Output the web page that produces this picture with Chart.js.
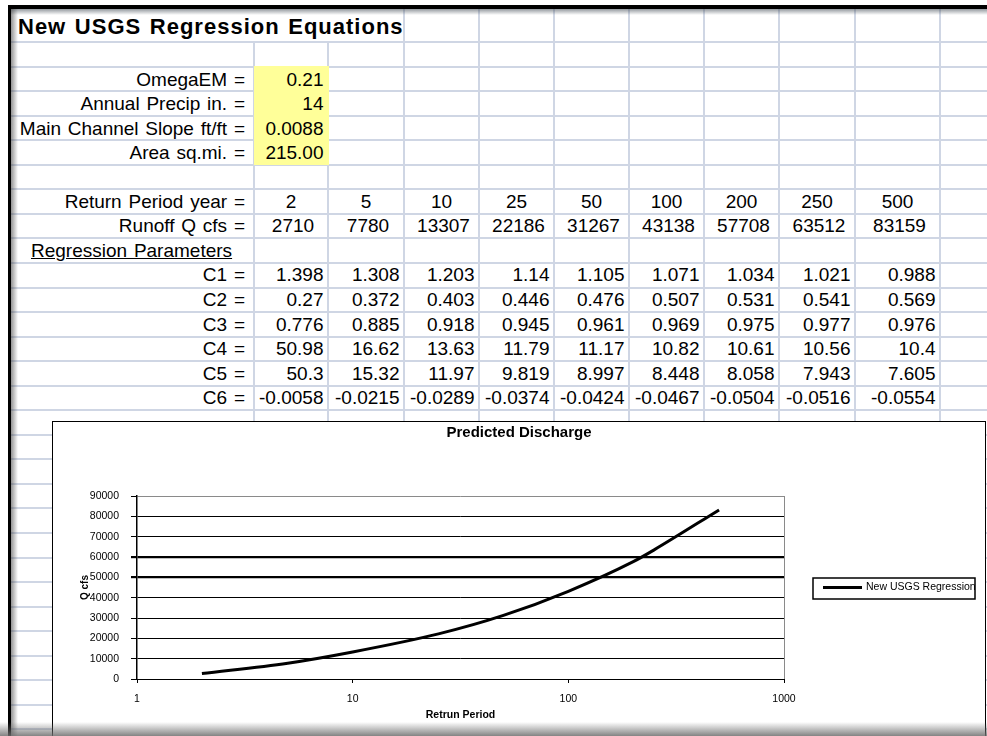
<!DOCTYPE html>
<html><head><meta charset="utf-8">
<script src="https://cdn.jsdelivr.net/npm/chart.js@4.4.1/dist/chart.umd.min.js"></script>
<style>
html,body{margin:0;padding:0;background:#fff;}
#sheet{position:relative;width:987px;height:736px;overflow:hidden;background:#fff;font-family:"Liberation Sans",Arial,sans-serif;color:#000;}
.h{position:absolute;height:2px;background:#cfd6e4;z-index:1;}
.v{position:absolute;width:2px;background:#cfd6e4;z-index:1;}
.t{position:absolute;white-space:nowrap;font-size:19px;line-height:19px;z-index:3;word-spacing:1.5px;}
#yellow{position:absolute;left:254px;top:66px;width:75px;height:99px;background:#ffff99;z-index:2;}
#chartBox{position:absolute;left:52px;top:421px;width:932px;height:315px;border:1px solid #000;border-bottom:none;background:#fff;z-index:5;}
#chartBox canvas{display:block;}
.frame{position:absolute;z-index:8;}
</style></head><body>
<div id="sheet">
  <div id="yellow"></div>
  <div id="chartBox"><canvas id="c" width="932" height="314"></canvas></div>
  <div class="frame" style="left:8px;top:5px;width:979px;height:4px;background:#000;"></div>
  <div class="frame" style="left:11px;top:9px;width:976px;height:6px;background:linear-gradient(to bottom,rgba(60,70,80,0.55),rgba(255,255,255,0));"></div>
  <div class="frame" style="left:8px;top:5px;width:3px;height:731px;background:#000;"></div>
  <div class="frame" style="left:11px;top:9px;width:7px;height:727px;background:linear-gradient(to right,rgba(60,60,60,0.55),rgba(255,255,255,0));"></div>
  <div class="frame" style="left:0;top:722px;width:987px;height:14px;background:linear-gradient(to bottom,rgba(140,140,140,0),rgba(110,110,110,0.85));"></div>
</div>
<script>
// ---- spreadsheet content ----
const sheetTitle = 'New USGS Regression Equations';
const inputLabels = ['OmegaEM =', 'Annual Precip in. =', 'Main Channel Slope ft/ft =', 'Area sq.mi. ='];
const inputValues = ['0.21', '14', '0.0088', '215.00'];
const returnPeriods = [2, 5, 10, 25, 50, 100, 200, 250, 500];
const runoffQ = [2710, 7780, 13307, 22186, 31267, 43138, 57708, 63512, 83159];
const paramHeader = 'Regression Parameters';
const paramNames = ['C1 =', 'C2 =', 'C3 =', 'C4 =', 'C5 =', 'C6 ='];
const c1 = ['1.398', '1.308', '1.203', '1.14', '1.105', '1.071', '1.034', '1.021', '0.988'];
const c2 = ['0.27', '0.372', '0.403', '0.446', '0.476', '0.507', '0.531', '0.541', '0.569'];
const c3 = ['0.776', '0.885', '0.918', '0.945', '0.961', '0.969', '0.975', '0.977', '0.976'];
const c4 = ['50.98', '16.62', '13.63', '11.79', '11.17', '10.82', '10.61', '10.56', '10.4'];
const c5 = ['50.3', '15.32', '11.97', '9.819', '8.997', '8.448', '8.058', '7.943', '7.605'];
const c6 = ['-0.0058', '-0.0215', '-0.0289', '-0.0374', '-0.0424', '-0.0467', '-0.0504', '-0.0516', '-0.0554'];
// ---- chart content ----
const chartTitle = 'Predicted Discharge';
const seriesLabel = 'New USGS Regression';
const xTitle = 'Retrun Period';
const yTitle = 'Q cfs';
const xTicks = [1, 10, 100, 1000];
const yMin = 0, yMax = 90000, yStep = 10000;

// ---- sheet layout ----
const sheet = document.getElementById('sheet');
const colX = [254, 328, 404, 479, 554, 629, 704, 779, 855, 940];
const rowH = 24.55, row1Top = 42;
const rowBottom = i => row1Top + rowH * i;

for (let i = 0; i <= 28; i++) {
  const d = document.createElement('div');
  d.className = 'h';
  d.style.left = '11px'; d.style.width = '976px';
  d.style.top = (Math.round(rowBottom(i)) - 1) + 'px';
  sheet.appendChild(d);
}
colX.forEach(x => {
  const d = document.createElement('div');
  d.className = 'v';
  const top = x < 400 ? 42 : 9;
  d.style.left = (x - 1) + 'px'; d.style.top = top + 'px'; d.style.height = (736 - top) + 'px';
  sheet.appendChild(d);
});

function addText(txt, o) {
  const d = document.createElement('div');
  d.className = 't';
  const size = o.size || 19;
  d.style.fontSize = size + 'px';
  d.style.lineHeight = size + 'px';
  if (o.bold) d.style.fontWeight = 'bold';
  if (o.underline) d.style.textDecoration = 'underline';
  if (o.ls) d.style.letterSpacing = o.ls + 'px';
  d.style.top = (o.baseline - 0.847 * size) + 'px';
  if (o.right !== undefined) { d.style.right = (987 - o.right) + 'px'; d.style.textAlign = 'right'; }
  else if (o.center !== undefined) { d.style.left = (o.center - 60) + 'px'; d.style.width = '120px'; d.style.textAlign = 'center'; }
  else d.style.left = o.left + 'px';
  d.textContent = txt;
  sheet.appendChild(d);
}

addText(sheetTitle, {left: 18, baseline: 35, size: 22, bold: true, ls: 1});
const labelRight = 245;
inputLabels.forEach((l, k) => {
  const b = rowBottom(k + 2) - 5.5;
  addText(l, {right: labelRight, baseline: b});
  addText(inputValues[k], {right: colX[1] - 4.5, baseline: b});
});
let b = rowBottom(7) - 6;
addText('Return Period year =', {right: labelRight, baseline: b});
returnPeriods.forEach((v, j) => addText(String(v), {center: (colX[j] + colX[j + 1]) / 2, baseline: b}));
b = rowBottom(8) - 6;
addText('Runoff Q cfs =', {right: labelRight, baseline: b});
runoffQ.forEach((v, j) => addText(String(v), {center: (colX[j] + colX[j + 1]) / 2 + 2, baseline: b}));
addText(paramHeader, {left: 31, baseline: rowBottom(9) - 6, underline: true});
[c1, c2, c3, c4, c5, c6].forEach((arr, k) => {
  const bb = rowBottom(10 + k) - 6;
  addText(paramNames[k], {right: labelRight, baseline: bb});
  arr.forEach((v, j) => addText(v, {right: colX[j + 1] - 4.5, baseline: bb}));
});

// ---- chart ----
const FONT = '"Liberation Sans", Arial, sans-serif';
const boxLegend = {
  id: 'boxLegend',
  afterDraw(chart) {
    const {ctx, chartArea: a} = chart;
    const ds = chart.data.datasets[0];
    const cy = (a.top + a.bottom) / 2;
    const bx = a.right + 29, by = cy - 9.5, bw = 162, bh = 21;
    ctx.save();
    ctx.strokeStyle = '#000';
    ctx.lineWidth = 1.5;
    ctx.strokeRect(bx, by, bw, bh);
    ctx.lineWidth = 3;
    ctx.beginPath();
    ctx.moveTo(bx + 10, cy); ctx.lineTo(bx + 49, cy);
    ctx.stroke();
    ctx.fillStyle = '#000';
    ctx.font = '10.5px ' + FONT;
    ctx.textBaseline = 'middle';
    ctx.textAlign = 'left';
    ctx.fillText(ds.label, bx + 53, cy);
    ctx.restore();
  }
};

new Chart(document.getElementById('c'), {
  type: 'line',
  data: {
    datasets: [{
      label: seriesLabel,
      data: returnPeriods.map((x, i) => ({x: x, y: runoffQ[i]})),
      borderColor: '#000',
      borderWidth: 3,
      pointRadius: 0,
      cubicInterpolationMode: 'monotone',
      fill: false
    }]
  },
  options: {
    responsive: false,
    animation: false,
    layout: {padding: {left: 0, right: 0, top: 0, bottom: 11}},
    plugins: {
      legend: {display: false},
      tooltip: {enabled: false},
      title: {display: true, text: chartTitle, color: '#000',
        font: {family: FONT, size: 15, weight: 'bold'}, padding: {top: 2, bottom: 54}}
    },
    scales: {
      x: {
        type: 'logarithmic', position: 'bottom', min: xTicks[0], max: xTicks[xTicks.length - 1],
        afterBuildTicks(s) { s.ticks = xTicks.map(v => ({value: v})); },
        afterFit(s) { s.height = 46; },
        ticks: {autoSkip: false, maxRotation: 0, minRotation: 0, padding: 9.7, color: '#000',
          font: {family: FONT, size: 10.5}, callback: v => String(v)},
        grid: {color: c => (c.tick && c.tick.value === 1000) ? '#8a8a8a' : 'rgba(0,0,0,0)',
          tickColor: '#000', tickLength: 4, lineWidth: 1},
        border: {display: true, color: '#000', width: 1},
        title: {display: true, text: xTitle, color: '#000', font: {family: FONT, size: 10.5, weight: 'bold'},
          padding: {top: 0, bottom: 3.7}}
      },
      y: {
        type: 'linear', position: 'left', min: yMin, max: yMax,
        afterFit(s) { s.width = 84; },
        ticks: {stepSize: yStep, padding: 12, color: '#000', font: {family: FONT, size: 10.5}, callback: v => String(v)},
        grid: {color: c => (c.tick && c.tick.value === yMax) ? '#8a8a8a' : '#000',
          lineWidth: c => (c.tick && (c.tick.value === 50000 || c.tick.value === 60000)) ? 2.2 : 1,
          tickColor: '#000', tickLength: 6},
        border: {display: true, color: '#000', width: 1.5},
        title: {display: true, text: yTitle, color: '#000', font: {family: FONT, size: 10, weight: 'bold'},
          padding: {top: 26, bottom: 0}}
      },
      legendSpace: {
        type: 'linear', position: 'right', display: true,
        grid: {display: false, drawTicks: false}, ticks: {display: false}, border: {display: false},
        afterFit(s) { s.width = 201; }
      }
    }
  },
  plugins: [boxLegend]
});
</script>
</body></html>
